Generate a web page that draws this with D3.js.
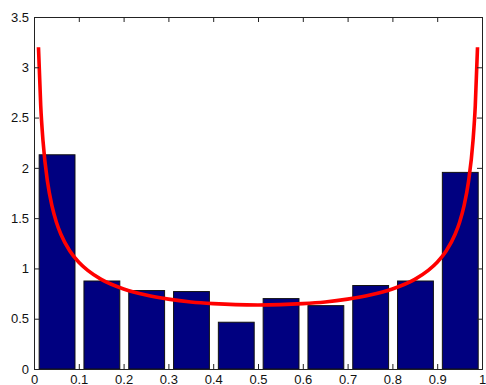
<!DOCTYPE html>
<html>
<head>
<meta charset="utf-8">
<script src="https://cdn.jsdelivr.net/npm/d3@7"></script>
<style>
  body { margin: 0; background: white; }
  svg { display: block; }
</style>
</head>
<body>
<div id="figure"></div>
<script>
// Histogramme : centres des classes et hauteurs des barres
let centres_classes = [0.0515, 0.1515, 0.2515, 0.3515, 0.4515, 0.5515, 0.6515, 0.7515, 0.8515, 0.9515];
let hauteurs_barres = [2.13, 0.875, 0.78, 0.77, 0.465, 0.70, 0.63, 0.83, 0.875, 1.955];
let largeur_barre = 0.08;

// Courbe rouge : points
let courbe_x = [0.01, 0.015, 0.02, 0.03, 0.04, 0.05, 0.06, 0.08, 0.10, 0.12, 0.15, 0.20, 0.25, 0.30, 0.35, 0.40, 0.45, 0.50,
                0.55, 0.60, 0.65, 0.70, 0.75, 0.80, 0.85, 0.88, 0.90, 0.92, 0.94, 0.95, 0.96, 0.97, 0.98, 0.985, 0.99];
let courbe_y = [3.199, 2.619, 2.274, 1.866, 1.624, 1.460, 1.340, 1.173, 1.061, 0.980, 0.891, 0.796, 0.735, 0.695, 0.667, 0.650, 0.640, 0.637,
                0.640, 0.650, 0.667, 0.695, 0.735, 0.796, 0.891, 0.980, 1.061, 1.173, 1.340, 1.460, 1.624, 1.866, 2.274, 2.619, 3.199];

// Graduations
let ticks_x = [0, 0.1, 0.2, 0.3, 0.4, 0.5, 0.6, 0.7, 0.8, 0.9, 1];
let ticks_y = [0, 0.5, 1, 1.5, 2, 2.5, 3, 3.5];

/* Prépare la toile et les échelles */
let largeur = 486, hauteur = 385;
let marge = {gauche: 34, haut: 17, droite: 482, bas: 369};

let svg = d3.select("#figure").append("svg")
    .attr("width", largeur)
    .attr("height", hauteur);

let x = d3.scaleLinear().domain([0, 1]).range([marge.gauche, marge.droite]);
let y = d3.scaleLinear().domain([0, 3.5]).range([marge.bas, marge.haut]);

/* Barres */
svg.selectAll("rect.barre")
    .data(centres_classes)
    .enter().append("rect")
    .attr("class", "barre")
    .attr("x", (d) => x(d - largeur_barre / 2))
    .attr("width", (d) => x(d + largeur_barre / 2) - x(d - largeur_barre / 2))
    .attr("y", (d, i) => y(hauteurs_barres[i]))
    .attr("height", (d, i) => y(0) - y(hauteurs_barres[i]))
    .attr("fill", "#000080")
    .attr("stroke", "#111")
    .attr("stroke-width", 1);

/* Courbe */
let ligne = d3.line()
    .x((d, i) => x(courbe_x[i]))
    .y((d, i) => y(d))
    .curve(d3.curveMonotoneX);

svg.append("path")
    .attr("d", ligne(courbe_y))
    .attr("fill", "none")
    .attr("stroke", "#ff0000")
    .attr("stroke-width", 3.6)
    .attr("stroke-linejoin", "round");

/* Axes : graduations vers l'intérieur, sur les quatre côtés */
let police = "'Liberation Sans', Arial, sans-serif";
let taille_tick = 5;

svg.append("g")
    .attr("transform", "translate(0," + marge.bas + ")")
    .call(d3.axisBottom(x).tickValues(ticks_x).tickSize(-taille_tick).tickPadding(6).tickFormat(d3.format("")));
svg.append("g")
    .attr("transform", "translate(0," + marge.haut + ")")
    .call(d3.axisTop(x).tickValues(ticks_x).tickSize(-taille_tick).tickFormat(""));
svg.append("g")
    .attr("transform", "translate(" + marge.gauche + ",0)")
    .call(d3.axisLeft(y).tickValues(ticks_y).tickSize(-taille_tick).tickPadding(5).tickFormat(d3.format("")));
svg.append("g")
    .attr("transform", "translate(" + marge.droite + ",0)")
    .call(d3.axisRight(y).tickValues(ticks_y).tickSize(-taille_tick).tickFormat(""));

svg.selectAll(".domain").attr("stroke", "#222");
svg.selectAll(".tick line").attr("stroke", "#222");
svg.selectAll(".tick text")
    .attr("font-family", police)
    .attr("font-size", 13)
    .attr("fill", "#111");
</script>
</body>
</html>
